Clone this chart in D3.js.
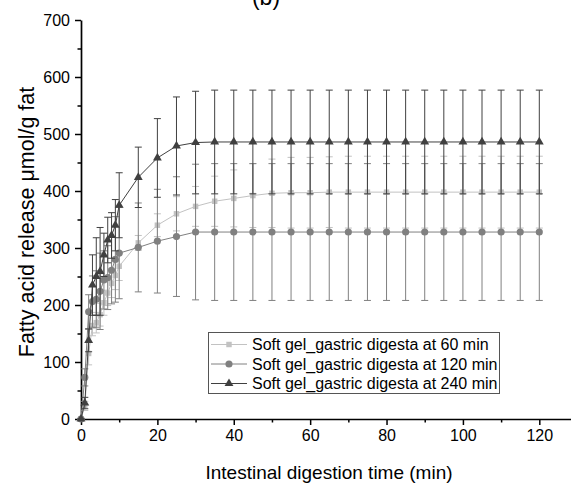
<!DOCTYPE html>
<html>
<head>
<meta charset="utf-8">
<script src="https://cdn.jsdelivr.net/npm/d3@7"></script>
<style>
  body { margin: 0; background: #fff; }
  svg { display: block; font-family: Arial, "Liberation Sans", sans-serif; }
</style>
</head>
<body>
<div id="main"></div>
<script>
// data
const time = [0, 1, 2, 3, 4, 5, 6, 7, 8, 9, 10, 15, 20, 25, 30, 35, 40, 45, 50, 55, 60,
    65, 70, 75, 80, 85, 90, 95, 100, 105, 110, 115, 120];

const gastric60 = [0, 23, 115, 164, 169, 183, 204, 221, 238, 252, 268, 309, 340, 360, 373, 382, 387,
    392, 396, 397, 397, 398, 398, 398, 398, 398, 398, 398, 398, 398, 398, 398, 398];
const gastric60Err = [0, 8, 20, 18, 18, 20, 22, 22, 25, 25, 25, 13, 20, 30, 35, 44, 50,
    56, 60, 62, 62, 62, 63, 63, 63, 63, 63, 63, 63, 63, 63, 63, 63];

const gastric120 = [0, 73, 188, 206, 210, 224, 244, 248, 261, 280, 291, 301, 312, 320, 328, 328, 328,
    328, 328, 328, 328, 328, 328, 328, 328, 328, 328, 328, 328, 328, 328, 328, 328];
const gastric120Err = [0, 15, 30, 45, 50, 67, 51, 56, 59, 75, 80, 78, 91, 105, 119, 120, 120,
    120, 120, 120, 120, 120, 120, 120, 120, 120, 120, 120, 120, 120, 120, 120, 120];

const gastric240 = [0, 28, 138, 235, 250, 259, 288, 314, 322, 340, 375, 424, 458, 479, 485, 486, 486,
    486, 486, 486, 486, 486, 486, 486, 486, 486, 486, 486, 486, 486, 486, 486, 486];
const gastric240Err = [0, 10, 20, 53, 68, 77, 38, 40, 40, 45, 57, 53, 69, 86, 90, 91, 91,
    91, 91, 91, 91, 91, 91, 91, 91, 91, 91, 91, 91, 91, 91, 91, 91];

const seriesNames = ['Soft gel_gastric digesta at 60 min', 'Soft gel_gastric digesta at 120 min',
    'Soft gel_gastric digesta at 240 min'];
const xTicks = [0, 20, 40, 60, 80, 100, 120];
const yTicks = [0, 100, 200, 300, 400, 500, 600, 700];

// layout
const width = 571;
const height = 483;

const series = [
    { name: seriesNames[0], values: gastric60, err: gastric60Err, color: '#c2c2c2', shape: d3.symbolSquare, size: 30 },
    { name: seriesNames[1], values: gastric120, err: gastric120Err, color: '#808080', shape: d3.symbolCircle, size: 40 },
    { name: seriesNames[2], values: gastric240, err: gastric240Err, color: '#404040', shape: d3.symbolTriangle, size: 34 }
];

const svg = d3.select('#main')
    .append('svg')
    .attr('width', width)
    .attr('height', height);

const xScale = d3.scaleLinear()
    .domain([0, 128.3])
    .range([81, 571]);

const yScale = d3.scaleLinear()
    .domain([0, 700])
    .range([419, 20]);

// axes with minor ticks
const xMinor = d3.range(10, 128, 20);
const yMinor = d3.range(50, 700, 100);

svg.append('g')
    .attr('transform', 'translate(0,419)')
    .call(d3.axisBottom(xScale).tickValues(xMinor).tickSize(3.5).tickFormat(''))
    .call(g => g.select('.domain').remove());
svg.append('g')
    .attr('transform', 'translate(81,0)')
    .call(d3.axisLeft(yScale).tickValues(yMinor).tickSize(3.5).tickFormat(''))
    .call(g => g.select('.domain').remove());

const xAxis = svg.append('g')
    .attr('transform', 'translate(0,419)')
    .call(d3.axisBottom(xScale).tickValues(xTicks).tickSize(6).tickSizeOuter(0).tickPadding(5));
const yAxis = svg.append('g')
    .attr('transform', 'translate(81,0)')
    .call(d3.axisLeft(yScale).tickValues(yTicks).tickSize(6).tickSizeOuter(0).tickPadding(5));

svg.selectAll('.tick line').attr('stroke', '#000').attr('stroke-width', 1.5);
svg.selectAll('.domain').attr('stroke', '#000').attr('stroke-width', 1.7);
svg.selectAll('.tick text')
    .attr('font-size', 16)
    .attr('fill', '#000')
    .attr('font-family', 'Arial, "Liberation Sans", sans-serif');

// axis titles
svg.append('text')
    .attr('x', 329)
    .attr('y', 479)
    .attr('text-anchor', 'middle')
    .attr('font-size', 19)
    .text('Intestinal digestion time (min)');

svg.append('text')
    .attr('transform', 'translate(34,222) rotate(-90)')
    .attr('text-anchor', 'middle')
    .attr('font-size', 21.5)
    .text('Fatty acid release μmol/g fat');

// panel label, partly off the top edge as in the original figure
svg.append('text')
    .attr('x', 266)
    .attr('y', 5)
    .attr('text-anchor', 'middle')
    .attr('font-size', 23)
    .text('(b)');

// series: error bars, line, markers
const line = d3.line()
    .x((d, i) => xScale(time[i]))
    .y((d) => yScale(d));

series.forEach((s) => {
    const g = svg.append('g');
    const bars = g.selectAll('.bar')
        .data(s.values)
        .enter()
        .append('g')
        .attr('stroke', s.color)
        .attr('stroke-width', 1);
    bars.append('line')
        .attr('x1', (d, i) => xScale(time[i]))
        .attr('x2', (d, i) => xScale(time[i]))
        .attr('y1', (d, i) => yScale(d - s.err[i]))
        .attr('y2', (d, i) => yScale(d + s.err[i]));
    bars.append('line')
        .attr('x1', (d, i) => xScale(time[i]) - 3.5)
        .attr('x2', (d, i) => xScale(time[i]) + 3.5)
        .attr('y1', (d, i) => yScale(d + s.err[i]))
        .attr('y2', (d, i) => yScale(d + s.err[i]));
    bars.append('line')
        .attr('x1', (d, i) => xScale(time[i]) - 3.5)
        .attr('x2', (d, i) => xScale(time[i]) + 3.5)
        .attr('y1', (d, i) => yScale(d - s.err[i]))
        .attr('y2', (d, i) => yScale(d - s.err[i]));

    g.append('path')
        .datum(s.values)
        .attr('fill', 'none')
        .attr('stroke', s.color)
        .attr('stroke-width', 1)
        .attr('d', line);

    g.selectAll('.marker')
        .data(s.values)
        .enter()
        .append('path')
        .attr('transform', (d, i) => `translate(${xScale(time[i])},${yScale(d)})`)
        .attr('fill', s.color)
        .attr('d', d3.symbol().type(s.shape).size(s.size));
});

// legend
const legend = svg.append('g');
legend.append('rect')
    .attr('x', 208.5)
    .attr('y', 332.5)
    .attr('width', 291)
    .attr('height', 61)
    .attr('fill', '#fff')
    .attr('stroke', '#555')
    .attr('stroke-width', 1);

series.forEach((s, i) => {
    const y = 344.5 + i * 19.5;
    legend.append('line')
        .attr('x1', 211)
        .attr('x2', 247)
        .attr('y1', y)
        .attr('y2', y)
        .attr('stroke', s.color)
        .attr('stroke-width', 1);
    legend.append('path')
        .attr('transform', `translate(229,${y})`)
        .attr('fill', s.color)
        .attr('d', d3.symbol().type(s.shape).size(s.size));
    legend.append('text')
        .attr('x', 252)
        .attr('y', y + 5.5)
        .attr('font-size', 16)
        .text(s.name);
});
</script>
</body>
</html>
